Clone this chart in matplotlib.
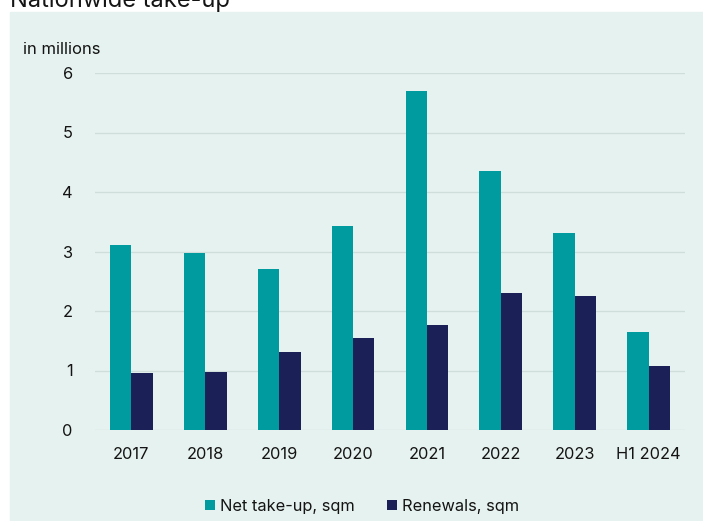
import numpy as np
import matplotlib.pyplot as plt
from matplotlib.patches import Rectangle

years = ["2017", "2018", "2019", "2020", "2021", "2022", "2023", "H1 2024"]
net_takeup = [3.11, 2.97, 2.71, 3.43, 5.70, 4.35, 3.31, 1.65]
renewals = [0.96, 0.97, 1.31, 1.55, 1.76, 2.30, 2.25, 1.08]

teal = "#009b9e"
navy = "#1b2157"
bg = "#e6f2ef"

plt.rcParams['font.family'] = ['Inter', 'DejaVu Sans']

W, H = 703, 521
fig = plt.figure(figsize=(W / 100, H / 100), dpi=100)
fig.patches.append(Rectangle((10 / W, 0), 1 - 10 / W, (H - 12) / H,
                             transform=fig.transFigure, color=bg, zorder=-10))

ax = fig.add_axes([95 / W, (H - 430) / H, 590 / W, 357 / H])
ax.set_facecolor("none")

x = np.arange(len(years))
w = 0.29
ax.bar(x - w / 2, net_takeup, w, color=teal, label="Net take-up, sqm", zorder=3)
ax.bar(x + w / 2, renewals, w, color=navy, label="Renewals, sqm", zorder=3)

ax.set_xlim(-0.49, len(years) - 0.51)
ax.set_ylim(0, 6)
ax.set_yticks(range(0, 7))
ax.set_xticks(x)
ax.set_xticklabels(years)
ax.tick_params(length=0, labelsize=11.8, colors="#141414")
ax.tick_params(axis="y", pad=16)
ax.tick_params(axis="x", pad=12)
ax.grid(axis="y", color="#cfdedb", linewidth=1, zorder=0)
for s in ax.spines.values():
    s.set_visible(False)

fig.text(23 / W, 1 - 49 / H, "in millions", fontsize=12, va="center", ha="left",
         color="#141414")
fig.text(10 / W, 1 - 1 / H, "Nationwide take-up", fontsize=17, va="center", ha="left",
         color="#141414")

fig.legend(loc="center", bbox_to_anchor=(362 / W, 1 - 506 / H), ncol=2, frameon=False,
           fontsize=11.8, handlelength=0.6, handleheight=0.6, handletextpad=0.3,
           columnspacing=2.0, labelcolor="#141414")

fig.savefig("out.png", dpi=100)
